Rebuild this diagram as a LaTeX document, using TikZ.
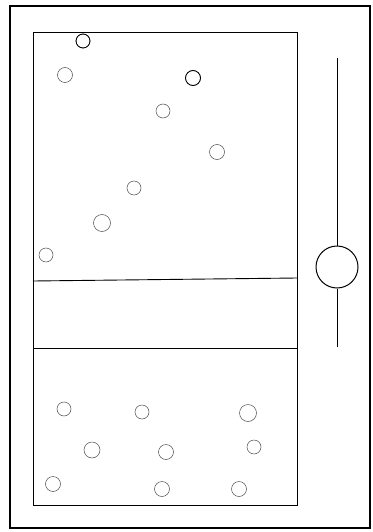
\documentclass[tikz,border=0pt]{standalone}
\usepackage{tikz}
\usetikzlibrary{positioning}

\begin{document}
\begin{tikzpicture}[x=1pt, y=-1pt, line width=0.9pt,
  dot/.style={circle, draw=black!70, line width=0.5pt, inner sep=0pt, minimum size=14pt},
  bigdot/.style={circle, draw, line width=1pt, inner sep=0pt, minimum size=42pt}]
  \useasboundingbox (0,0) rectangle (372,532);
  % frames
  \draw[line width=1.2pt] (10,6) rectangle (370,528);
  \draw (33,32) rectangle (297,505);
  \draw (33,281) -- (297,278);
  \draw (33,348) -- (297,348);
  % upper part
  \foreach \x/\y/\s [count=\i] in {83/41/14, 65/75/15, 193/78/15, 163/111/14, 217/152/15, 134/188/14, 102/223/17, 46/255/14} {
    \node[dot, minimum size=\s pt] (u\i) at (\x,\y) {};
  }
  \draw[line width=0.8pt] (u1.center) circle (7pt) (u3.center) circle (7.5pt);
  % lower part
  \foreach \x/\y/\s [count=\i] in {64/409/14, 142/412/14, 248/413/17, 92/450/16, 166/452/15, 254/447/14, 53/484/15, 162/489/15, 239/489/15} {
    \node[dot, minimum size=\s pt] (l\i) at (\x,\y) {};
  }
  % slider
  \coordinate (top) at (337,58);
  \coordinate (bot) at (337,347);
  \node[bigdot] (knob) at (337,267) {};
  \draw[line width=0.6pt] (top) -- (knob);
  \draw[line width=0.6pt] (knob) -- (bot);
\end{tikzpicture}
\end{document}
